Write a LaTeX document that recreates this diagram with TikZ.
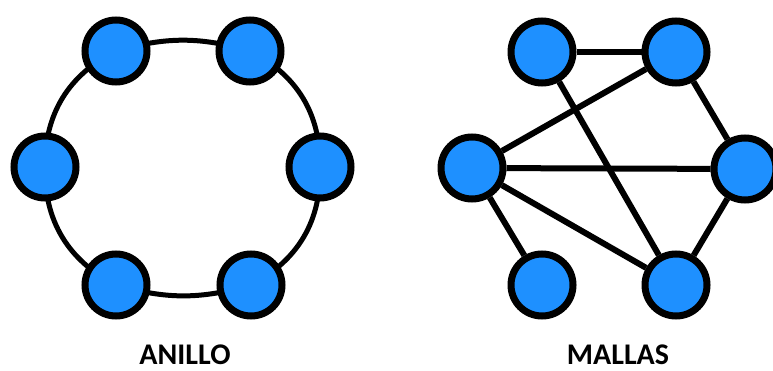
\documentclass[tikz,border=0pt]{standalone}
\usepackage{fontspec}
\setmainfont{Carlito}
\usetikzlibrary{backgrounds}
\definecolor{nodeblue}{RGB}{30,144,255}
\begin{document}
\begin{tikzpicture}[x=1pt,y=-1pt,
  host/.style={circle,draw=black,fill=nodeblue,line width=7pt,minimum size=62pt,inner sep=0pt},
  ringlink/.style={line width=5pt},
  meshlink/.style={line width=6pt},
  caption/.style={anchor=base,inner sep=0pt,font=\fontsize{30}{36}\selectfont\bfseries}]
\useasboundingbox (0,0) rectangle (773,371);
% ring topology
\node[host] (r1) at (116,51) {};
\node[host] (r2) at (250,51) {};
\node[host] (r3) at (320,167) {};
\node[host] (r4) at (251,285) {};
\node[host] (r5) at (116,285) {};
\node[host] (r6) at (45,167) {};
\begin{scope}[on background layer]
\draw[ringlink] (r1.center) to[bend left=16] (r2.center);
\draw[ringlink] (r2.center) to[bend left=32] (r3.center);
\draw[ringlink] (r3.center) to[bend left=32] (r4.center);
\draw[ringlink] (r4.center) to[bend left=16] (r5.center);
\draw[ringlink] (r5.center) to[bend left=32] (r6.center);
\draw[ringlink] (r6.center) to[bend left=32] (r1.center);
\end{scope}
\node[caption] (ringlabel) at (185,364) {ANILLO};
% mesh topology
\node[host] (m1) at (542,52) {};
\node[host] (m2) at (676,52) {};
\node[host] (m3) at (472,168) {};
\node[host] (m4) at (745,169) {};
\node[host] (m5) at (542,285) {};
\node[host] (m6) at (676,285) {};
\draw[meshlink] (m1) -- (m2);
\draw[meshlink] (m1) -- (m6);
\draw[meshlink] (m2) -- (m3);
\draw[meshlink] (m2) -- (m4);
\draw[meshlink] (m3) -- (m4);
\draw[meshlink] (m3) -- (m5);
\draw[meshlink] (m3) -- (m6);
\draw[meshlink] (m4) -- (m6);
\node[caption] (meshlabel) at (618,364) {MALLAS};
\end{tikzpicture}
\end{document}
